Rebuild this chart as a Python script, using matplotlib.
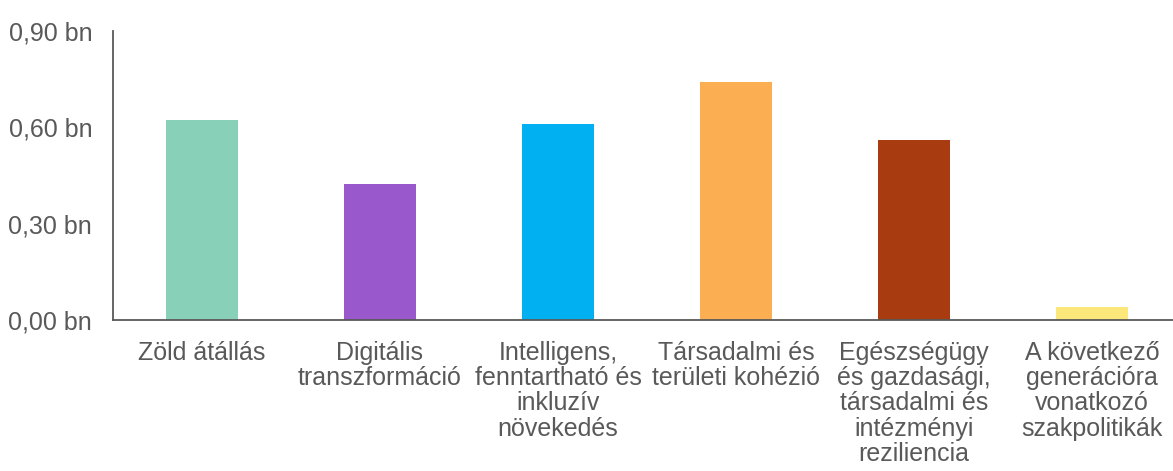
import matplotlib.pyplot as plt
from matplotlib.ticker import FixedLocator

plt.rcParams['font.family'] = ['Liberation Sans', 'DejaVu Sans']

categories = ["Zöld átállás",
              "Digitális\ntranszformáció",
              "Intelligens,\nfenntartható és\ninkluzív\nnövekedés",
              "Társadalmi és\nterületi kohézió",
              "Egészségügy\nés gazdasági,\ntársadalmi és\nintézményi\nreziliencia",
              "A következő\ngenerációra\nvonatkozó\nszakpolitikák"]
values = [0.623, 0.424, 0.610, 0.741, 0.561, 0.041]
colors = ['#88d1b8', '#9a58cd', '#00b0f0', '#fcae52', '#a83c10', '#fbe77a']
yticks = [0.0, 0.3, 0.6, 0.9]
ytick_labels = ["0,00 bn", "0,30 bn", "0,60 bn", "0,90 bn"]

fig = plt.figure(figsize=(11.73, 4.71), dpi=100)
ax = fig.add_axes([113 / 1173, 151 / 471, 1068 / 1173, 289 / 471])

x = range(len(categories))
ax.bar(x, values, 0.4, color=colors)

ax.set_xlim(-0.5, 5.5)
ax.set_ylim(0, 0.9)
ax.yaxis.set_major_locator(FixedLocator(yticks))
ax.set_yticklabels(ytick_labels)
ax.set_xticks(list(x))
ax.set_xticklabels(categories, linespacing=1.07)
ax.tick_params(axis='both', length=0, labelsize=18, labelcolor='#595959')
ax.tick_params(axis='y', pad=15)
ax.tick_params(axis='x', pad=15)

for s in ['top', 'right']:
    ax.spines[s].set_visible(False)
for s in ['left', 'bottom']:
    ax.spines[s].set_color('#595959')
    ax.spines[s].set_linewidth(1.3)

fig.savefig("out.png", dpi=100)
